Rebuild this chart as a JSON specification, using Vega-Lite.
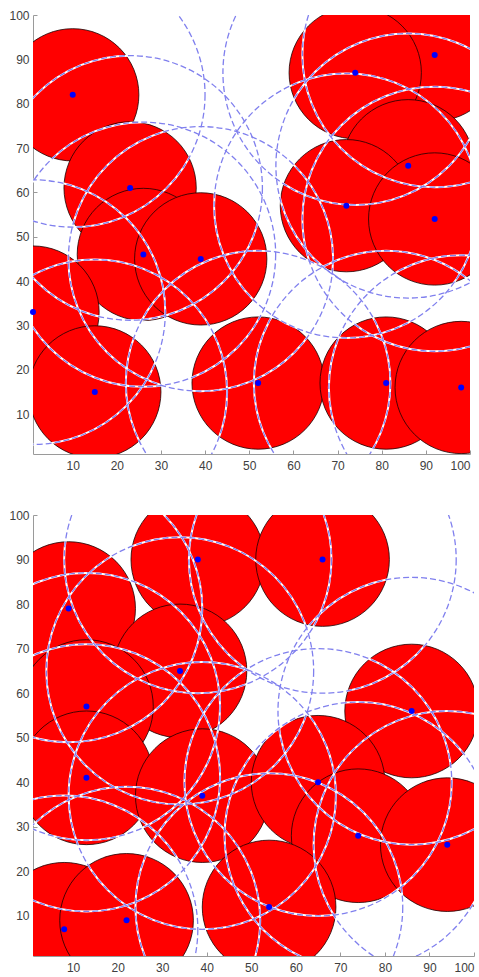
{
  "$schema": "https://vega.github.io/schema/vega-lite/v6.json",
  "padding": {"left": 8, "top": 9, "right": 4, "bottom": 0},
  "spacing": 38,
  "config": {
    "view": {"stroke": null},
    "axis": {
      "grid": false,
      "domainColor": "#9a9a9a",
      "tickColor": "#9a9a9a",
      "tickSize": -4,
      "labelColor": "#404040",
      "labelFont": "Liberation Sans",
      "labelFontSize": 12,
      "title": null,
      "values": [10, 20, 30, 40, 50, 60, 70, 80, 90, 100]
    },
    "axisX": {"labelPadding": 10},
    "axisY": {"labelPadding": 8}
  },
  "datasets": {
    "top": [
      {"x": 10, "y": 82}, {"x": 23, "y": 61}, {"x": 92, "y": 91}, {"x": 74, "y": 87},
      {"x": 86, "y": 66}, {"x": 72, "y": 57}, {"x": 92, "y": 54}, {"x": 26, "y": 46},
      {"x": 39, "y": 45}, {"x": 1, "y": 33}, {"x": 15, "y": 15}, {"x": 52, "y": 17},
      {"x": 81, "y": 17}, {"x": 98, "y": 16}
    ],
    "bottom": [
      {"x": 9, "y": 79}, {"x": 38, "y": 90}, {"x": 66, "y": 90}, {"x": 34, "y": 65},
      {"x": 13, "y": 57}, {"x": 86, "y": 56}, {"x": 13, "y": 41}, {"x": 39, "y": 37},
      {"x": 65, "y": 40}, {"x": 74, "y": 28}, {"x": 94, "y": 26}, {"x": 8, "y": 7},
      {"x": 22, "y": 9}, {"x": 54, "y": 12}
    ]
  },
  "vconcat": [
    {
      "width": 437,
      "height": 439,
      "data": {"name": "top"},
      "encoding": {
        "x": {"field": "x", "type": "quantitative", "scale": {"domain": [1, 100], "nice": false, "zero": false}},
        "y": {"field": "y", "type": "quantitative", "scale": {"domain": [1, 100], "nice": false, "zero": false}}
      },
      "layer": [
        {"mark": {"type": "point", "shape": "circle", "filled": true, "size": 17500, "fill": "#ff0000", "fillOpacity": 1, "stroke": "#1a0000", "strokeWidth": 0.8, "opacity": 1, "clip": true}},
        {"mark": {"type": "point", "shape": "circle", "filled": false, "size": 70013, "stroke": "#ffffff", "strokeWidth": 2, "opacity": 1, "clip": true}},
        {"mark": {"type": "point", "shape": "circle", "filled": false, "size": 70013, "stroke": "#8080ee", "strokeWidth": 1.3, "strokeDash": [6, 3], "opacity": 1, "clip": true}},
        {"mark": {"type": "point", "shape": "circle", "filled": true, "size": 36, "fill": "#0000ff", "opacity": 1, "clip": false}}
      ]
    },
    {
      "width": 441,
      "height": 441,
      "data": {"name": "bottom"},
      "encoding": {
        "x": {"field": "x", "type": "quantitative", "scale": {"domain": [1, 100], "nice": false, "zero": false}},
        "y": {"field": "y", "type": "quantitative", "scale": {"domain": [1, 100], "nice": false, "zero": false}}
      },
      "layer": [
        {"mark": {"type": "point", "shape": "circle", "filled": true, "size": 17862, "fill": "#ff0000", "fillOpacity": 1, "stroke": "#1a0000", "strokeWidth": 0.8, "opacity": 1, "clip": true}},
        {"mark": {"type": "point", "shape": "circle", "filled": false, "size": 71449, "stroke": "#ffffff", "strokeWidth": 2, "opacity": 1, "clip": true}},
        {"mark": {"type": "point", "shape": "circle", "filled": false, "size": 71449, "stroke": "#8080ee", "strokeWidth": 1.3, "strokeDash": [6, 3], "opacity": 1, "clip": true}},
        {"mark": {"type": "point", "shape": "circle", "filled": true, "size": 36, "fill": "#0000ff", "opacity": 1, "clip": false}}
      ]
    }
  ]
}
